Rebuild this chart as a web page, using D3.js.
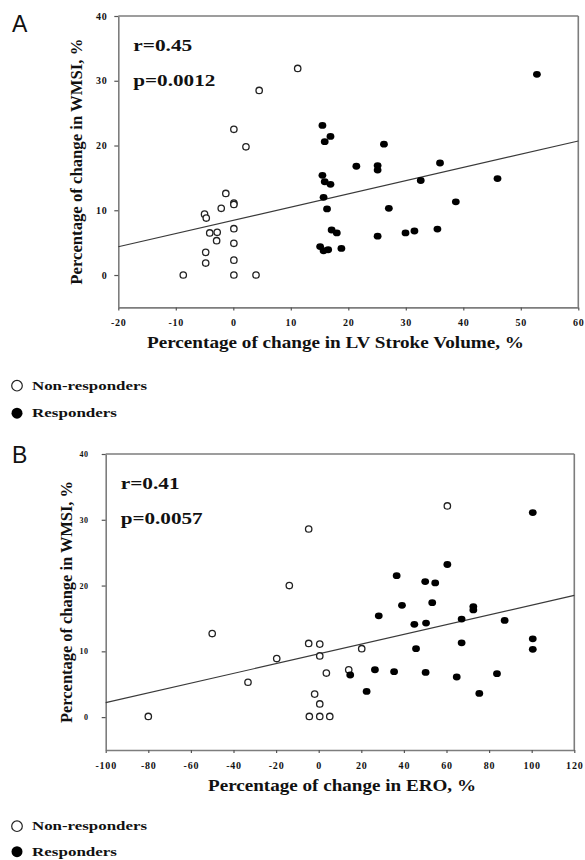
<!DOCTYPE html>
<html><head><meta charset="utf-8">
<script src="https://cdn.jsdelivr.net/npm/d3@7"></script>
<style>
body{margin:0;background:#fff;}
svg{display:block;}
.serif{font-family:"Liberation Serif","Times New Roman",serif;font-weight:bold;fill:#111;}
</style></head>
<body>
<script>
// ---------------- DATA ----------------
// Panel A: % change LV stroke volume (x) vs % change WMSI (y)
const aNonResponders = [
  [-8.7,0],[-5.0,9.4],[-4.7,8.8],[-4.1,6.5],[-2.8,6.6],[-2.9,5.3],[-2.1,10.3],[-1.3,12.6],
  [0.1,11.1],[0.1,10.9],[0.1,22.5],[0.1,7.15],[0.1,4.9],[0.1,2.3],[0.1,0],[-4.8,3.5],
  [-4.8,1.85],[2.2,19.8],[3.95,0],[4.5,28.5],[11.2,31.9]
];
const aResponders = [
  [52.8,31.0],[15.5,23.1],[16.9,21.4],[15.9,20.6],[26.2,20.2],[21.4,16.8],[25.1,16.9],[25.1,16.2],
  [35.95,17.3],[45.95,14.9],[32.6,14.6],[15.5,15.4],[15.9,14.4],[16.9,14.0],[15.7,12.0],[16.3,10.2],
  [27.05,10.3],[38.7,11.3],[17.1,6.95],[18.0,6.5],[25.1,6.0],[29.95,6.5],[31.5,6.8],[35.5,7.1],
  [15.1,4.4],[15.7,3.75],[16.5,3.9],[18.8,4.1]
];
const aFitLine = [[-20,4.37],[60,20.7]];
const aStats = ["r=0.45","p=0.0012"];
const aXTicks = [-20,-10,0,10,20,30,40,50,60];
const aYTicks = [0,10,20,30,40];

// Panel B: % change ERO (x) vs % change WMSI (y)
const bNonResponders = [
  [-80,0.1],[-50,12.7],[-33.2,5.3],[-19.7,8.9],[-13.8,20.0],[-4.7,28.6],[-4.7,11.2],[0.5,11.1],
  [0.5,9.3],[3.6,6.7],[-1.9,3.5],[0.5,2.0],[-4.4,0.1],[0.5,0.1],[5.2,0.1],[20.2,10.4],
  [14.1,7.2],[60.4,32.1]
];
const bResponders = [
  [100.5,31.1],[60.4,23.2],[36.6,21.5],[50.0,20.6],[54.7,20.4],[39.1,17.0],[53.3,17.4],[72.6,16.8],
  [72.6,16.3],[28.2,15.4],[44.9,14.1],[50.4,14.3],[67.1,14.9],[87.3,14.7],[100.5,11.9],[100.5,10.3],
  [67.1,11.3],[45.7,10.4],[14.8,6.4],[26.4,7.2],[35.4,6.9],[50.2,6.8],[64.8,6.1],[83.7,6.6],
  [22.5,3.9],[75.4,3.6]
];
const bFitLine = [[-100,2.2],[120,18.5]];
const bStats = ["r=0.41","p=0.0057"];
const bXTicks = [-100,-80,-60,-40,-20,0,20,40,60,80,100,120];
const bYTicks = [0,10,20,30,40];

const legendLabels = ["Non-responders","Responders"];

// ---------------- DRAW ----------------
const W = 585, H = 860;
const svg = d3.select("body").append("svg").attr("width",W).attr("height",H);
const SERIF = '"Liberation Serif","Times New Roman",serif';

function panel(cfg){
  const g = svg.append("g");
  const x = d3.scaleLinear().domain(cfg.xDomain).range([cfg.left,cfg.right]);
  const y = d3.scaleLinear().domain([-5,40]).range([cfg.bottom,cfg.top]);
  const frame = "#7d7d7d";

  // box top & right
  g.append("line").attr("x1",cfg.left).attr("x2",cfg.right).attr("y1",cfg.top).attr("y2",cfg.top)
    .attr("stroke",frame).attr("stroke-width",1.6);
  g.append("line").attr("x1",cfg.right).attr("x2",cfg.right).attr("y1",cfg.top).attr("y2",cfg.bottom)
    .attr("stroke",frame).attr("stroke-width",1.6);

  // x axis
  const xa = g.append("g").attr("transform",`translate(0,${cfg.bottom})`)
    .call(d3.axisBottom(x).tickValues(cfg.xTicks).tickFormat(d=>String(d)).tickSize(3).tickPadding(cfg.xPad).tickSizeOuter(0));
  // y axis
  const ya = g.append("g").attr("transform",`translate(${cfg.left},0)`)
    .call(d3.axisLeft(y).tickValues(cfg.yTicks).tickFormat(d=>String(d)).tickSize(4).tickPadding(cfg.yPad).tickSizeOuter(0));
  [xa,ya].forEach(a=>{
    a.attr("font-family",SERIF).attr("font-weight","bold");
    a.select(".domain").attr("stroke",frame).attr("stroke-width",1.6);
    a.selectAll(".tick line").attr("stroke","#555").attr("stroke-width",1.2);
    a.selectAll(".tick text").attr("fill","#111")
      .style("font-family",SERIF).style("font-weight","bold");
  });
  xa.attr("font-size",10);
  ya.attr("font-size",cfg.yTickFont);
  xa.selectAll(".tick text").style("font-size","10px").attr("letter-spacing","0.8px");
  ya.selectAll(".tick text").style("font-size",cfg.yTickFont+"px").attr("letter-spacing","0.6px");

  // fit line
  g.append("line")
    .attr("x1",x(cfg.fit[0][0])).attr("y1",y(cfg.fit[0][1]))
    .attr("x2",x(cfg.fit[1][0])).attr("y2",y(cfg.fit[1][1]))
    .attr("stroke","#3a3a3a").attr("stroke-width",1.2);

  // points
  g.selectAll(".open").data(cfg.open).join("circle")
    .attr("cx",d=>x(d[0])).attr("cy",d=>y(d[1])).attr("r",3.2)
    .attr("fill","#fff").attr("stroke","#222").attr("stroke-width",1.3);
  g.selectAll(".fill").data(cfg.filled).join("ellipse")
    .attr("cx",d=>x(d[0])).attr("cy",d=>y(d[1])).attr("rx",3.9).attr("ry",3.4)
    .attr("fill","#000");

  // stats text
  g.selectAll(".stat").data(cfg.stats).join("text").attr("class","serif")
    .attr("x",cfg.left+15).attr("y",(d,i)=>cfg.top+35+i*35)
    .attr("font-size","16px").attr("textLength",(d,i)=>i===0?59:82).attr("lengthAdjust","spacingAndGlyphs")
    .text(d=>d);

  // axis titles
  g.append("text").attr("class","serif").attr("x",cfg.xTitleX).attr("y",cfg.bottom+41)
    .attr("text-anchor","middle").attr("font-size","16px")
    .attr("textLength",cfg.xTitleLen).attr("lengthAdjust","spacingAndGlyphs").text(cfg.xTitle);
  g.append("text").attr("class","serif")
    .attr("transform",`translate(${cfg.yTitleX},${(cfg.top+cfg.bottom)/2}) rotate(-90)`)
    .attr("text-anchor","middle").attr("font-size","16px")
    .attr("textLength",cfg.yTitleLen).attr("lengthAdjust","spacingAndGlyphs").text("Percentage of change in WMSI, %");

  // panel letter
  g.append("text").attr("x",12).attr("y",cfg.letterY)
    .attr("font-family",'"Liberation Sans",Arial,sans-serif').attr("font-size","23px").attr("fill","#111")
    .text(cfg.letter);

  // legend
  const ly = cfg.legendY, gap = cfg.legendGap;
  g.append("circle").attr("cx",17).attr("cy",ly).attr("r",5.3).attr("fill","#fff").attr("stroke","#222").attr("stroke-width",1.2);
  g.append("circle").attr("cx",17).attr("cy",ly+gap).attr("r",5.5).attr("fill","#000");
  g.selectAll(".leg").data(legendLabels).join("text").attr("class","serif")
    .attr("x",32).attr("y",(d,i)=>ly+4+i*gap).attr("font-size","13px")
    .attr("textLength",(d,i)=>i===0?115:85).attr("lengthAdjust","spacingAndGlyphs")
    .text(d=>d);
}

panel({
  letter:"A", letterY:32,
  left:118.3, right:578.3, top:16, bottom:307.4,
  xDomain:[-20,60], xTicks:aXTicks, yTicks:aYTicks,
  xPad:9, yPad:7, yTickFont:10,
  open:aNonResponders, filled:aResponders, fit:aFitLine, stats:aStats,
  xTitle:"Percentage of change in LV Stroke Volume, %", xTitleX:335.5, xTitleLen:377,
  yTitleX:82, yTitleLen:246,
  legendY:385.7, legendGap:27.5
});
panel({
  letter:"B", letterY:463,
  left:105.7, right:574.3, top:454, bottom:750,
  xDomain:[-100,120], xTicks:bXTicks, yTicks:bYTicks,
  xPad:9, yPad:13, yTickFont:8,
  open:bNonResponders, filled:bResponders, fit:bFitLine, stats:bStats,
  xTitle:"Percentage of change in ERO, %", xTitleX:342, xTitleLen:268,
  yTitleX:72, yTitleLen:242,
  legendY:826.2, legendGap:25.5
});
</script>
</body></html>
